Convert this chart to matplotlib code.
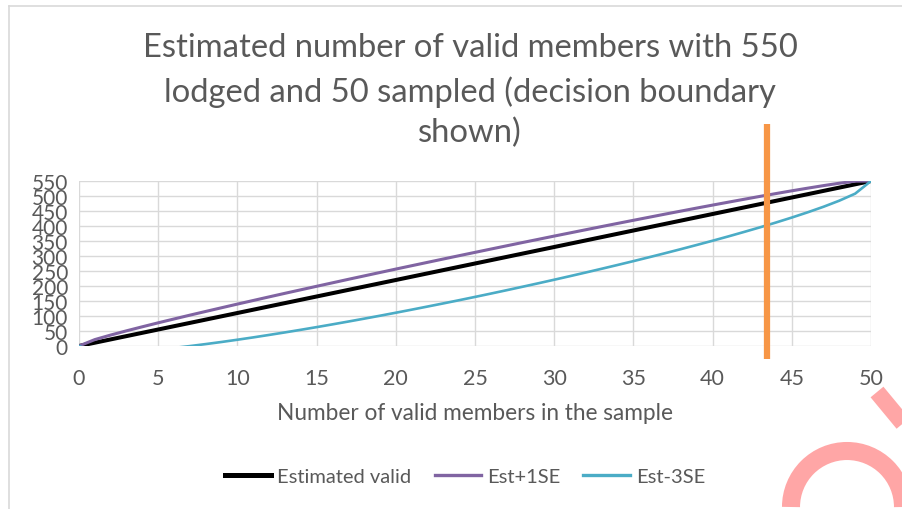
import matplotlib
matplotlib.use("Agg")
import matplotlib.pyplot as plt
from matplotlib.patches import Arc
from matplotlib.lines import Line2D

plt.rcParams['font.family'] = ['Lato', 'DejaVu Sans']

x_sample = list(range(0, 51))
est_valid = [0, 11, 22, 33, 44, 55, 66, 77, 88, 99, 110, 121, 132, 143, 154, 165, 176, 187, 198, 209,
             220, 231, 242, 253, 264, 275, 286, 297, 308, 319, 330, 341, 352, 363, 374, 385, 396, 407,
             418, 429, 440, 451, 462, 473, 484, 495, 506, 517, 528, 539, 550]
est_plus_1se = [0, 21.4, 36.5, 50.6, 64.1, 77.3, 90.1, 102.8, 115.2, 127.5, 139.7, 151.7, 163.7, 175.6,
                187.3, 199.0, 210.6, 222.2, 233.6, 245.0, 256.4, 267.6, 278.8, 290.0, 301.1, 312.1,
                323.1, 334.0, 344.9, 355.6, 366.4, 377.0, 387.6, 398.2, 408.6, 419.0, 429.3, 439.6,
                449.7, 459.8, 469.7, 479.5, 489.2, 498.8, 508.1, 517.3, 526.1, 534.6, 542.6, 549.4, 550]
est_minus_3se = [0, -20.2, -21.6, -19.9, -16.4, -11.8, -6.4, -0.3, 6.4, 13.4, 20.9, 28.7, 36.9, 45.3,
                 54.0, 62.9, 72.1, 81.5, 91.1, 100.9, 110.9, 121.1, 131.5, 142.0, 152.7, 163.6, 174.7,
                 186.0, 197.5, 209.1, 220.9, 232.9, 245.1, 257.5, 270.1, 282.9, 296.0, 309.3, 322.9,
                 336.8, 350.9, 365.4, 380.4, 395.7, 411.6, 428.2, 445.6, 464.1, 484.4, 507.8, 550]
decision_boundary = 43.45
boundary_span = [-43, 740]

title_lines = ["Estimated number of valid members with 550",
               "lodged and 50 sampled (decision boundary",
               "shown)"]
x_label = "Number of valid members in the sample"
series_names = ["Estimated valid", "Est+1SE", "Est-3SE"]
x_ticks = list(range(0, 51, 5))
y_ticks = list(range(0, 551, 50))

W, H = 902, 510
fig = plt.figure(figsize=(W / 100, H / 100), dpi=100)
ax = fig.add_axes([79 / W, 1 - 347 / H, (871 - 79) / W, (347 - 182) / H])

grey = '#595959'
ax.plot(x_sample, est_valid, color='black', lw=2.9, label=series_names[0], zorder=3,
        solid_capstyle='round')
ax.plot(x_sample, est_plus_1se, color='#8064a2', lw=2.2, label=series_names[1], zorder=3,
        solid_capstyle='round')
ax.plot(x_sample, est_minus_3se, color='#4bacc6', lw=1.9, label=series_names[2], zorder=3,
        solid_capstyle='round')
ax.plot([decision_boundary, decision_boundary], boundary_span, color='#f79646', lw=4.5,
        clip_on=False, zorder=4, solid_capstyle='butt')

ax.set_xlim(0, 50)
ax.set_ylim(0, 550)
ax.set_xticks(x_ticks)
ax.set_yticks(y_ticks)
ax.grid(True, color='#d9d9d9', lw=1.0)
ax.set_axisbelow(True)
for s in ax.spines.values():
    s.set_visible(False)
ax.tick_params(length=0, labelcolor=grey)
ax.tick_params(axis='x', pad=16, labelsize=15.5)
ax.tick_params(axis='y', pad=8, labelsize=15)
ax.set_xlabel(x_label, fontsize=16.3, color=grey, labelpad=10)

for i, (t, yp) in enumerate(zip(title_lines, [48, 92, 133])):
    fig.text(470 / W, 1 - yp / H, t, ha='center', va='center', fontsize=23.6, color=grey)

handles = [Line2D([], [], color='black', lw=3.6),
           Line2D([], [], color='#8064a2', lw=2.4),
           Line2D([], [], color='#4bacc6', lw=2.4)]
fig.legend(handles, series_names, loc='center', bbox_to_anchor=(465 / W, 1 - 477 / H), ncol=3,
           frameon=False, fontsize=14.5, labelcolor=grey, handlelength=2.3, handletextpad=0.3,
           columnspacing=1.15)

# chart frame
fig.add_artist(Line2D([9 / W, 1], [1 - 7 / H, 1 - 7 / H], color='#d9d9d9', lw=1.2))
fig.add_artist(Line2D([9 / W, 9 / W], [0, 1 - 7 / H], color='#d9d9d9', lw=1.2))

# decorative pink mark
pink = '#ffa6a6'
fig.add_artist(Line2D([877 / W, 925 / W], [1 - 393 / H, 1 - 451 / H], color=pink, lw=12,
                      solid_capstyle='butt'))
fig.add_artist(Arc((847 / W, 1 - 508 / H), 112 / W, 112 / H, theta1=0, theta2=180,
                   color=pink, lw=13))

fig.savefig('out.png', dpi=100)
